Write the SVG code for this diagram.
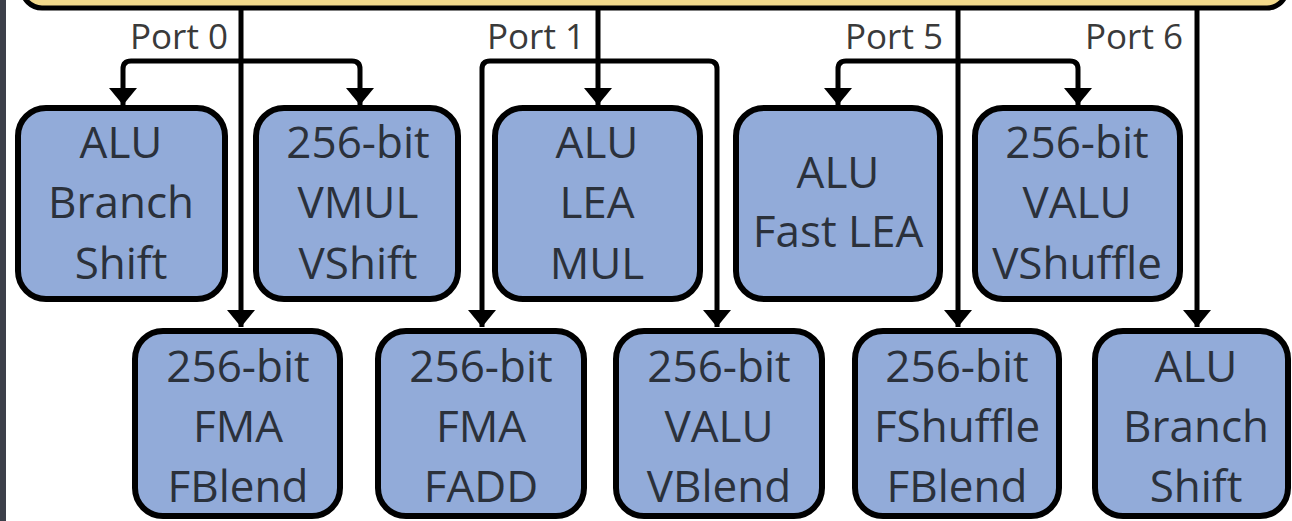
<svg xmlns="http://www.w3.org/2000/svg" width="1292" height="521" viewBox="0 0 1292 521">
<style>
.box{fill:#92abd9;stroke:#000;stroke-width:6}
.t{font-family:"Open Sans","Noto Sans","Liberation Sans",sans-serif;font-size:44px;fill:#2b313b;text-anchor:middle}
.lbl{font-family:"Open Sans","Noto Sans","Liberation Sans",sans-serif;font-size:35px;fill:#3a3a3a;text-anchor:end}
.c{fill:none;stroke:#000;stroke-width:5}
</style>
<defs>
<marker id="ah" markerUnits="userSpaceOnUse" markerWidth="17" markerHeight="28" refX="17" refY="14" orient="auto" viewBox="0 0 17 28">
<path d="M0,0 L17,14 L0,28 Z" fill="#000"/>
</marker>
</defs>
<rect x="0" y="0" width="1292" height="521" fill="#fff"/>
<rect x="0" y="0" width="6" height="521" fill="#3c3f4a"/>
<g id="bus">
<rect x="22" y="-40" width="1265" height="48" rx="20" fill="#f2d98b" stroke="#000" stroke-width="5"/>
</g>
<g id="labels">
<text class="lbl" x="228" y="49">Port 0</text>
<text class="lbl" x="585" y="49">Port 1</text>
<text class="lbl" x="943" y="49">Port 5</text>
<text class="lbl" x="1183" y="49">Port 6</text>
</g>
<g id="connectors">
<path class="c" d="M241,10 V327" marker-end="url(#ah)"/>
<path class="c" d="M241,61 H131 Q123,61 123,69 V105" marker-end="url(#ah)"/>
<path class="c" d="M241,61 H352 Q360,61 360,69 V105" marker-end="url(#ah)"/>
<path class="c" d="M598,10 V105" marker-end="url(#ah)"/>
<path class="c" d="M598,61 H490 Q482,61 482,69 V327" marker-end="url(#ah)"/>
<path class="c" d="M598,61 H709 Q717,61 717,69 V327" marker-end="url(#ah)"/>
<path class="c" d="M958,10 V327" marker-end="url(#ah)"/>
<path class="c" d="M958,61 H846 Q838,61 838,69 V105" marker-end="url(#ah)"/>
<path class="c" d="M958,61 H1070 Q1078,61 1078,69 V105" marker-end="url(#ah)"/>
<path class="c" d="M1197,10 V327" marker-end="url(#ah)"/>
</g>
<g id="n1"><rect class="box" x="18" y="108" width="207" height="191" rx="28"/>
<text class="t" x="121" y="158">ALU</text><text class="t" x="121" y="218">Branch</text><text class="t" x="121" y="279">Shift</text></g>
<g id="n2"><rect class="box" x="256" y="108" width="202" height="191" rx="28"/>
<text class="t" x="358" y="158">256-bit</text><text class="t" x="358" y="218">VMUL</text><text class="t" x="358" y="279">VShift</text></g>
<g id="n3"><rect class="box" x="495" y="108" width="205" height="191" rx="28"/>
<text class="t" x="597" y="158">ALU</text><text class="t" x="597" y="218">LEA</text><text class="t" x="597" y="279">MUL</text></g>
<g id="n4"><rect class="box" x="736" y="108" width="204" height="191" rx="28"/>
<text class="t" x="838" y="188">ALU</text><text class="t" x="838" y="247">Fast LEA</text></g>
<g id="n5"><rect class="box" x="975" y="108" width="205" height="191" rx="28"/>
<text class="t" x="1077" y="158">256-bit</text><text class="t" x="1077" y="218">VALU</text><text class="t" x="1077" y="279">VShuffle</text></g>
<g id="n6"><rect class="box" x="135" y="331" width="205" height="185" rx="28"/>
<text class="t" x="238" y="382">256-bit</text><text class="t" x="238" y="442">FMA</text><text class="t" x="238" y="502">FBlend</text></g>
<g id="n7"><rect class="box" x="378" y="331" width="206" height="185" rx="28"/>
<text class="t" x="481" y="382">256-bit</text><text class="t" x="481" y="442">FMA</text><text class="t" x="481" y="502">FADD</text></g>
<g id="n8"><rect class="box" x="616" y="331" width="206" height="185" rx="28"/>
<text class="t" x="719" y="382">256-bit</text><text class="t" x="719" y="442">VALU</text><text class="t" x="719" y="502">VBlend</text></g>
<g id="n9"><rect class="box" x="855" y="331" width="204" height="185" rx="28"/>
<text class="t" x="957" y="382">256-bit</text><text class="t" x="957" y="442">FShuffle</text><text class="t" x="957" y="502">FBlend</text></g>
<g id="n10"><rect class="box" x="1095" y="331" width="193" height="185" rx="28"/>
<text class="t" x="1196" y="382">ALU</text><text class="t" x="1196" y="442">Branch</text><text class="t" x="1196" y="502">Shift</text></g>
</svg>
